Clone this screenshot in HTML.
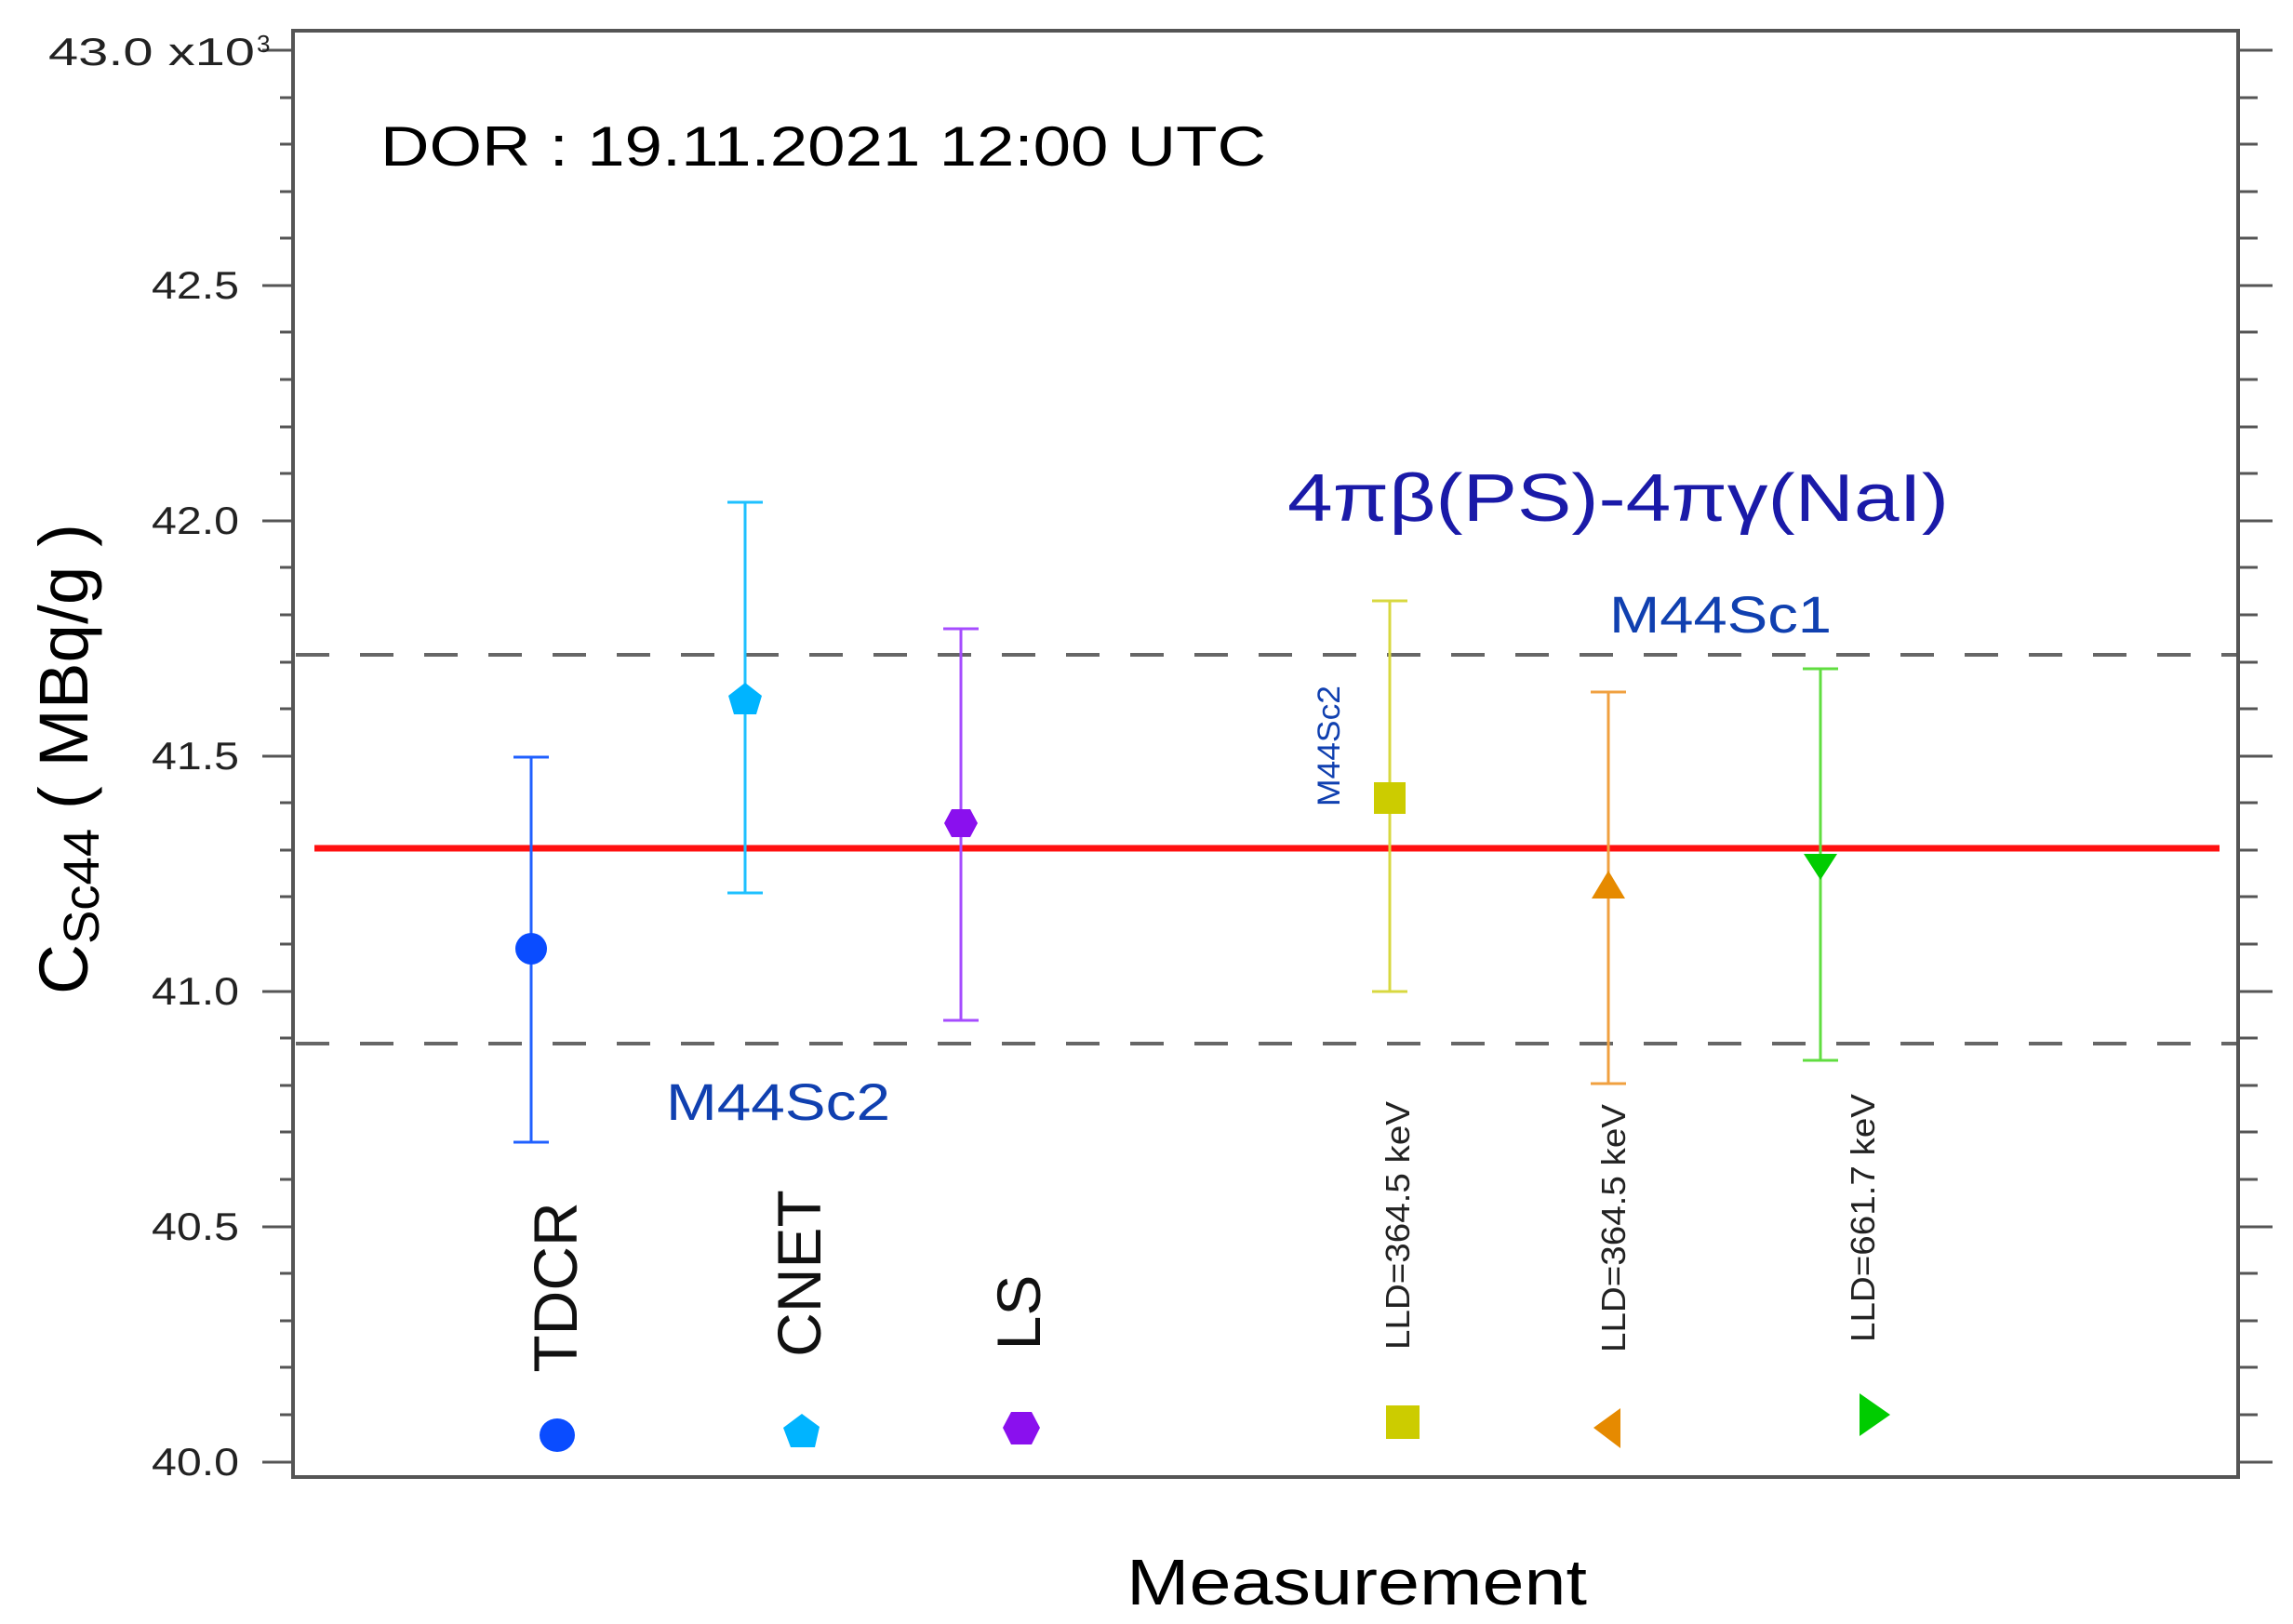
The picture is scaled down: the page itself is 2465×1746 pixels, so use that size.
<!DOCTYPE html>
<html><head><meta charset="utf-8"><style>html,body{margin:0;padding:0;background:#fff}svg{display:block}</style></head>
<body>
<svg width="2465" height="1746" viewBox="0 0 2465 1746" xmlns="http://www.w3.org/2000/svg" font-family="Liberation Sans, sans-serif">
<rect width="2465" height="1746" fill="#fff"/>
<g stroke="#555" stroke-width="3">
<line x1="301" y1="105" x2="315" y2="105"/><line x1="301" y1="155" x2="315" y2="155"/><line x1="301" y1="206" x2="315" y2="206"/><line x1="301" y1="256" x2="315" y2="256"/>
<line x1="282" y1="307" x2="315" y2="307"/><line x1="301" y1="357" x2="315" y2="357"/><line x1="301" y1="408" x2="315" y2="408"/><line x1="301" y1="459" x2="315" y2="459"/><line x1="301" y1="509" x2="315" y2="509"/>
<line x1="282" y1="560" x2="315" y2="560"/><line x1="301" y1="610" x2="315" y2="610"/><line x1="301" y1="661" x2="315" y2="661"/><line x1="301" y1="712" x2="315" y2="712"/><line x1="301" y1="762" x2="315" y2="762"/>
<line x1="282" y1="813" x2="315" y2="813"/><line x1="301" y1="863" x2="315" y2="863"/><line x1="301" y1="914" x2="315" y2="914"/><line x1="301" y1="964" x2="315" y2="964"/><line x1="301" y1="1015" x2="315" y2="1015"/>
<line x1="282" y1="1066" x2="315" y2="1066"/><line x1="301" y1="1116" x2="315" y2="1116"/><line x1="301" y1="1167" x2="315" y2="1167"/><line x1="301" y1="1217" x2="315" y2="1217"/><line x1="301" y1="1268" x2="315" y2="1268"/>
<line x1="282" y1="1319" x2="315" y2="1319"/><line x1="301" y1="1369" x2="315" y2="1369"/><line x1="301" y1="1420" x2="315" y2="1420"/><line x1="301" y1="1470" x2="315" y2="1470"/><line x1="301" y1="1521" x2="315" y2="1521"/>
<line x1="282" y1="1572" x2="315" y2="1572"/>
<line x1="282" y1="54" x2="315" y2="54"/>
</g>
<g stroke="#555" stroke-width="3">
<line x1="2406" y1="54" x2="2443" y2="54"/><line x1="2406" y1="105" x2="2427" y2="105"/><line x1="2406" y1="155" x2="2427" y2="155"/><line x1="2406" y1="206" x2="2427" y2="206"/><line x1="2406" y1="256" x2="2427" y2="256"/>
<line x1="2406" y1="307" x2="2443" y2="307"/><line x1="2406" y1="357" x2="2427" y2="357"/><line x1="2406" y1="408" x2="2427" y2="408"/><line x1="2406" y1="459" x2="2427" y2="459"/><line x1="2406" y1="509" x2="2427" y2="509"/>
<line x1="2406" y1="560" x2="2443" y2="560"/><line x1="2406" y1="610" x2="2427" y2="610"/><line x1="2406" y1="661" x2="2427" y2="661"/><line x1="2406" y1="712" x2="2427" y2="712"/><line x1="2406" y1="762" x2="2427" y2="762"/>
<line x1="2406" y1="813" x2="2443" y2="813"/><line x1="2406" y1="863" x2="2427" y2="863"/><line x1="2406" y1="914" x2="2427" y2="914"/><line x1="2406" y1="964" x2="2427" y2="964"/><line x1="2406" y1="1015" x2="2427" y2="1015"/>
<line x1="2406" y1="1066" x2="2443" y2="1066"/><line x1="2406" y1="1116" x2="2427" y2="1116"/><line x1="2406" y1="1167" x2="2427" y2="1167"/><line x1="2406" y1="1217" x2="2427" y2="1217"/><line x1="2406" y1="1268" x2="2427" y2="1268"/>
<line x1="2406" y1="1319" x2="2443" y2="1319"/><line x1="2406" y1="1369" x2="2427" y2="1369"/><line x1="2406" y1="1420" x2="2427" y2="1420"/><line x1="2406" y1="1470" x2="2427" y2="1470"/><line x1="2406" y1="1521" x2="2427" y2="1521"/>
<line x1="2406" y1="1572" x2="2443" y2="1572"/>
</g>
<rect x="315" y="33" width="2091" height="1555" fill="none" stroke="#555" stroke-width="4"/>
<g font-size="42" fill="#222" lengthAdjust="spacingAndGlyphs">
<text x="52" y="70" textLength="222" lengthAdjust="spacingAndGlyphs">43.0 x10</text><text x="276" y="56" font-size="26">3</text>
<text x="163" y="321" textLength="94" lengthAdjust="spacingAndGlyphs">42.5</text>
<text x="163" y="574" textLength="94" lengthAdjust="spacingAndGlyphs">42.0</text>
<text x="163" y="827" textLength="94" lengthAdjust="spacingAndGlyphs">41.5</text>
<text x="163" y="1080" textLength="94" lengthAdjust="spacingAndGlyphs">41.0</text>
<text x="163" y="1333" textLength="94" lengthAdjust="spacingAndGlyphs">40.5</text>
<text x="163" y="1586" textLength="94" lengthAdjust="spacingAndGlyphs">40.0</text>
</g>
<text transform="translate(94,816) rotate(-90)" x="-253" font-size="74" fill="#000" textLength="506" lengthAdjust="spacingAndGlyphs">C<tspan font-size="54" dy="12">Sc44</tspan><tspan dy="-12"> ( MBq/g )</tspan></text>
<text x="1211" y="1725" font-size="70" fill="#000" textLength="495" lengthAdjust="spacingAndGlyphs">Measurement</text>
<text x="409" y="178" font-size="60" fill="#000" textLength="952" lengthAdjust="spacingAndGlyphs">DOR : 19.11.2021 12:00 UTC</text>
<text x="1384" y="560" font-size="72" fill="#1a1aa8" textLength="711" lengthAdjust="spacingAndGlyphs">4πβ(PS)-4πγ(NaI)</text>
<text x="1730" y="680" font-size="56" fill="#1040b0" textLength="239" lengthAdjust="spacingAndGlyphs">M44Sc1</text>
<text x="716" y="1204" font-size="56" fill="#1040b0" textLength="241" lengthAdjust="spacingAndGlyphs">M44Sc2</text>
<text transform="translate(1440,802) rotate(-90)" x="-65" font-size="34" fill="#1040b0" textLength="130" lengthAdjust="spacingAndGlyphs">M44Sc2</text>
<line x1="318" y1="704" x2="2404" y2="704" stroke="#666" stroke-width="4" stroke-dasharray="36,33"/>
<line x1="318" y1="1122" x2="2404" y2="1122" stroke="#666" stroke-width="4" stroke-dasharray="36,33"/>
<line x1="338" y1="912" x2="2386" y2="912" stroke="#ff1010" stroke-width="7"/>
<g stroke-width="3" fill="none">
<path d="M571 814V1228M552 814H590M552 1228H590" stroke="#2060ff"/>
<path d="M801 540V960M782 540H820M782 960H820" stroke="#1ec0ff"/>
<path d="M1033 676V1097M1014 676H1052M1014 1097H1052" stroke="#a64cff"/>
<path d="M1494 646V1066M1475 646H1513M1475 1066H1513" stroke="#d8d840"/>
<path d="M1729 744V1165M1710 744H1748M1710 1165H1748" stroke="#f0a040"/>
<path d="M1957 719V1140M1938 719H1976M1938 1140H1976" stroke="#60dd40"/>
</g>
<ellipse cx="571" cy="1020" rx="17" ry="17" fill="#0a4cff"/>
<polygon points="801,734 819,748 813,768 789,768 783,748" fill="#00b4ff"/>
<polygon points="1023,870 1043,870 1051,885 1043,900 1023,900 1015,885" fill="#8a10ee"/>
<rect x="1477" y="841" width="34" height="34" fill="#cccc00"/>
<polygon points="1729,936 1747,966 1711,966" fill="#e68a00"/>
<polygon points="1957,946 1975,918 1939,918" fill="#00cc00"/>
<ellipse cx="599" cy="1543" rx="19" ry="18" fill="#0a4cff"/>
<polygon points="862,1520 881,1534 876,1556 850,1556 842,1535" fill="#00b4ff"/>
<polygon points="1087,1518 1109,1518 1118,1535 1109,1553 1087,1553 1078,1535" fill="#8a10ee"/>
<rect x="1490" y="1511" width="36" height="36" fill="#cccc00"/>
<polygon points="1713,1535 1742,1514 1742,1557" fill="#e68a00"/>
<polygon points="2032,1521 1999,1498 1999,1544" fill="#00cc00"/>
<g fill="#111" font-size="66">
<text transform="translate(620,1384) rotate(-90)" text-anchor="middle">TDCR</text>
<text transform="translate(882,1369) rotate(-90)" text-anchor="middle">CNET</text>
<text transform="translate(1118,1411) rotate(-90)" text-anchor="middle">LS</text>
</g>
<g fill="#222" font-size="36">
<text transform="translate(1515,1318) rotate(-90)" x="-133" textLength="267" lengthAdjust="spacingAndGlyphs">LLD=364.5 keV</text>
<text transform="translate(1747,1321) rotate(-90)" x="-133" textLength="267" lengthAdjust="spacingAndGlyphs">LLD=364.5 keV</text>
<text transform="translate(2015,1310) rotate(-90)" x="-133" textLength="267" lengthAdjust="spacingAndGlyphs">LLD=661.7 keV</text>
</g>
</svg>
</body></html>
